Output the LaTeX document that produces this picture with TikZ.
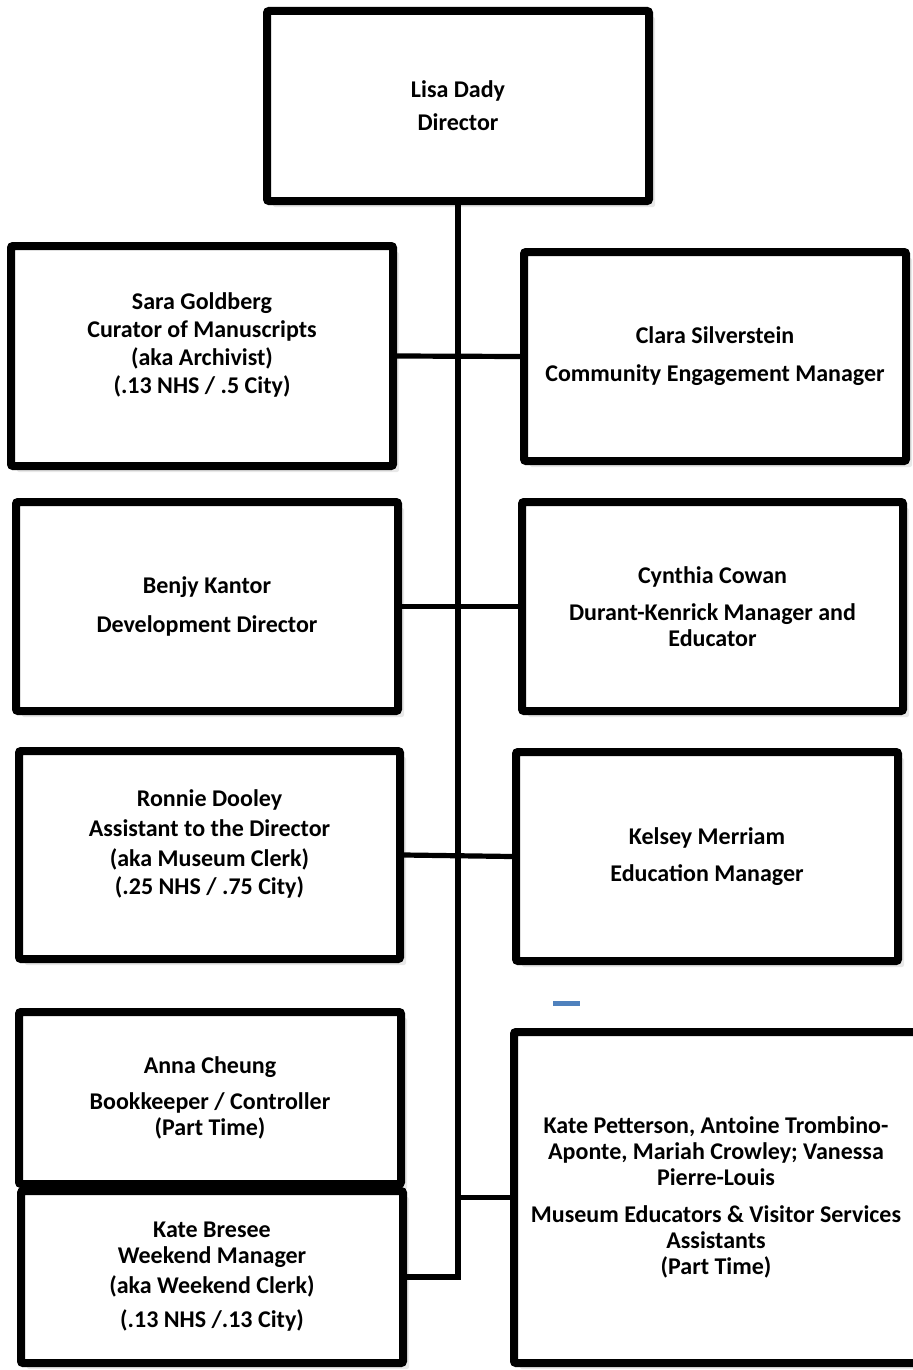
\documentclass[tikz,border=0pt]{standalone}
\usepackage{fontspec}
\setmainfont{Carlito}
\usepackage{tikz}
\usetikzlibrary{shadows}
\definecolor{markblue}{HTML}{4F81BD}

\begin{document}
\begin{tikzpicture}[x=0.75pt,y=-0.75pt]
        %
        % `staffbox' is used for every position in the chart.
        % `link' is used for the reporting lines.
        % `boxsize' gives a box its width and height in pixels.
        \tikzstyle{staffbox} = [draw,fill=white,line width=6pt,rounded corners=1.5pt,align=center,inner sep=0pt,font={\fontsize{18}{19.5}\selectfont\bfseries},drop shadow={shadow xshift=4.5pt,shadow yshift=-4.5pt,opacity=0.18}]
        \tikzstyle{link} = [line width=3.9pt]
        \tikzset{boxsize/.style 2 args={minimum width=#1*0.75pt,minimum height=#2*0.75pt}}
        %
        \useasboundingbox (0,0) rectangle (913,1370);
        \clip (0,0) rectangle (913,1370);
        %
        % Director
        \node[staffbox,boxsize={382}{190}] (dady) at (458,106) {Lisa Dady\\[5pt]Director};
        %
        % Row 1
        \node[staffbox,boxsize={382}{220}] (goldberg) at (202,356) {Sara Goldberg\\[1.5pt]Curator of Manuscripts\\[1.5pt](aka Archivist)\\[1.5pt](.13 NHS / .5 City)\\[0pt]\mbox{}};
        \node[staffbox,boxsize={382}{209}] (silverstein) at (715,356.5) {Clara Silverstein\\[9pt]Community Engagement Manager};
        %
        % Row 2
        \node[staffbox,boxsize={382}{209}] (kantor) at (207,606.5) {Benjy Kantor\\[9.5pt]Development Director};
        \node[staffbox,boxsize={381}{209}] (cowan) at (712.5,606.5) {Cynthia Cowan\\[8pt]Durant-Kenrick Manager and\\Educator};
        %
        % Row 3
        \node[staffbox,boxsize={381}{208}] (dooley) at (209.5,855) {Ronnie Dooley\\[3pt]Assistant to the Director\\[3pt](aka Museum Clerk)\\[2pt](.25 NHS / .75 City)\\[0pt]\mbox{}};
        \node[staffbox,boxsize={382}{209}] (merriam) at (707,856.5) {Kelsey Merriam\\[8pt]Education Manager};
        %
        % Row 4
        \node[staffbox,boxsize={382}{172}] (cheung) at (210,1098) {Anna Cheung\\[8pt]Bookkeeper / Controller\\(Part Time)};
        \node[staffbox,boxsize={382}{172}] (bresee) at (212,1277) {Kate Bresee\\Weekend Manager\\[3pt](aka Weekend Clerk)\\[6pt](.13 NHS /.13 City)};
        \node[staffbox,boxsize={404}{331}] (educators) at (716,1197.5) {Kate Petterson, Antoine Trombino-\\Aponte, Mariah Crowley; Vanessa\\Pierre-Louis\\[8pt]Museum Educators \& Visitor Services\\Assistants\\(Part Time)};
        %
        % Reporting lines
        \draw[link] (dady.south) -- (dady.south |- bresee.east) -- (bresee.east);
        \draw[link] (goldberg.east) -- (silverstein.west);
        \draw[link] (kantor.east) -- (cowan.west);
        \draw[link] (dooley.east) -- (merriam.west);
        \draw[link] (educators.west -| dady.south) -- (educators.west);
        %
        % Stray mark
        \fill[markblue] (553,1001) rectangle (580,1006);
        %
\end{tikzpicture}
\end{document}
